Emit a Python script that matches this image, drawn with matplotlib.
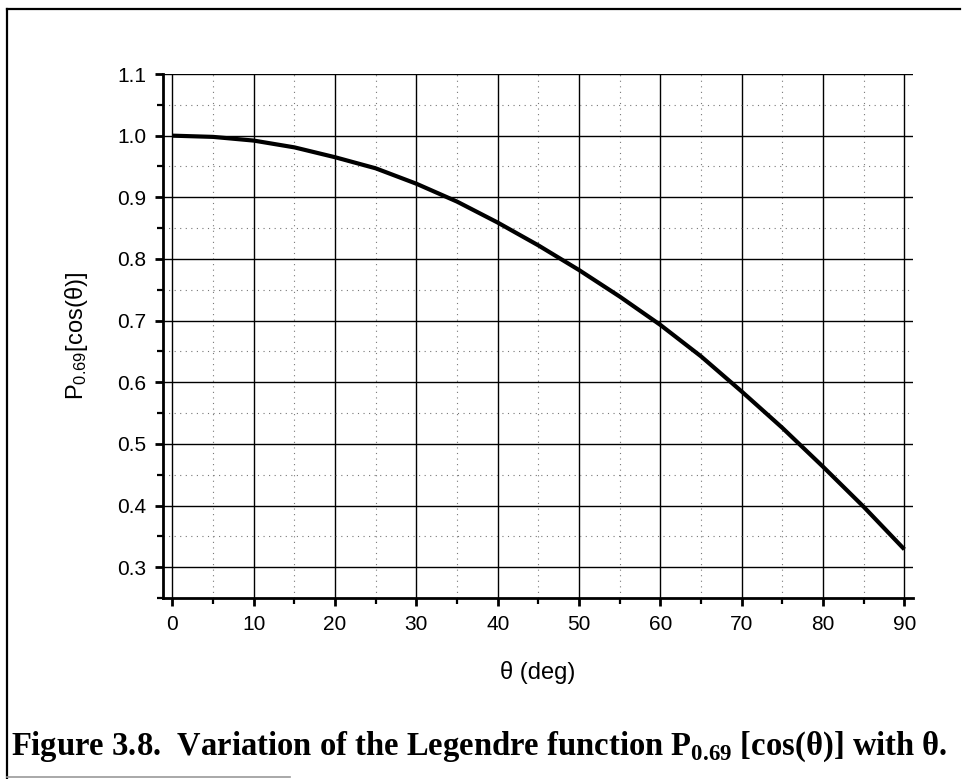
import matplotlib
matplotlib.use("Agg")
import matplotlib.pyplot as plt
from matplotlib.lines import Line2D
from matplotlib.ticker import MultipleLocator

# values
theta_deg = [0, 5, 10, 15, 20, 25, 30, 35, 40, 45, 50, 55, 60, 65, 70, 75, 80, 85, 90]
p_069 = [1.000, 0.998, 0.992, 0.981, 0.965, 0.947, 0.922, 0.893, 0.859, 0.822,
         0.782, 0.739, 0.693, 0.642, 0.585, 0.526, 0.463, 0.398, 0.329]

x_ticks = [0, 10, 20, 30, 40, 50, 60, 70, 80, 90]
y_ticks = [0.3, 0.4, 0.5, 0.6, 0.7, 0.8, 0.9, 1.0, 1.1]

plt.rcParams["font.family"] = ["Liberation Sans", "DejaVu Sans"]
plt.rcParams["mathtext.fontset"] = "custom"
plt.rcParams["mathtext.rm"] = "Liberation Sans"
plt.rcParams["mathtext.it"] = "Liberation Sans"
plt.rcParams["mathtext.bf"] = "Liberation Serif:bold"

fig = plt.figure(figsize=(9.65, 7.79), dpi=100)
ax = fig.add_axes([0.169, 0.2323, 0.777, 0.6727])

# grid first so the curve sits on top
ax.grid(which="major", color="black", linewidth=1.0, linestyle="-")
ax.grid(which="minor", color="#777777", linewidth=0.8, linestyle=(0, (1, 4)))
ax.set_axisbelow(True)

ax.plot(theta_deg, p_069, color="black", linewidth=3.0, solid_capstyle="butt")

ax.set_xlim(-1.15, 91.05)
ax.set_ylim(0.25, 1.1)
ax.set_xticks(x_ticks)
ax.set_yticks(y_ticks)
ax.xaxis.set_minor_locator(MultipleLocator(5))
ax.yaxis.set_minor_locator(MultipleLocator(0.05))
ax.set_yticklabels([f"{v:.1f}" for v in y_ticks])

for side in ["top", "right"]:
    ax.spines[side].set_visible(False)
for side in ["left", "bottom"]:
    ax.spines[side].set_linewidth(2.0)

ax.tick_params(which="major", direction="out", length=6, width=2.0, labelsize=15, pad=6)
ax.tick_params(which="minor", direction="out", length=4, width=1.6)

ax.set_xlabel("θ (deg)", fontsize=17, labelpad=20)
ax.set_ylabel(r"$\mathrm{P}_{\mathrm{0.69}}$" + "[cos(θ)]", fontsize=17, labelpad=20)

# caption under the plot
fig.text(0.011, 0.031,
         "Figure 3.8.  Variation of the Legendre function "
         r"$\mathbf{P}_{\mathbf{0.69}}$" + " [cos(θ)] with θ.",
         family="Liberation Serif", weight="bold", fontsize=23.5, va="baseline")

# scanned page border
fig.add_artist(Line2D([0.007, 0.995], [0.989, 0.989], color="black", linewidth=1.6))
fig.add_artist(Line2D([0.007, 0.007], [0.0, 0.989], color="black", linewidth=1.6))
fig.add_artist(Line2D([0.007, 0.30], [0.003, 0.003], color="#999999", linewidth=1.2))

fig.savefig("out.png", dpi=100)
